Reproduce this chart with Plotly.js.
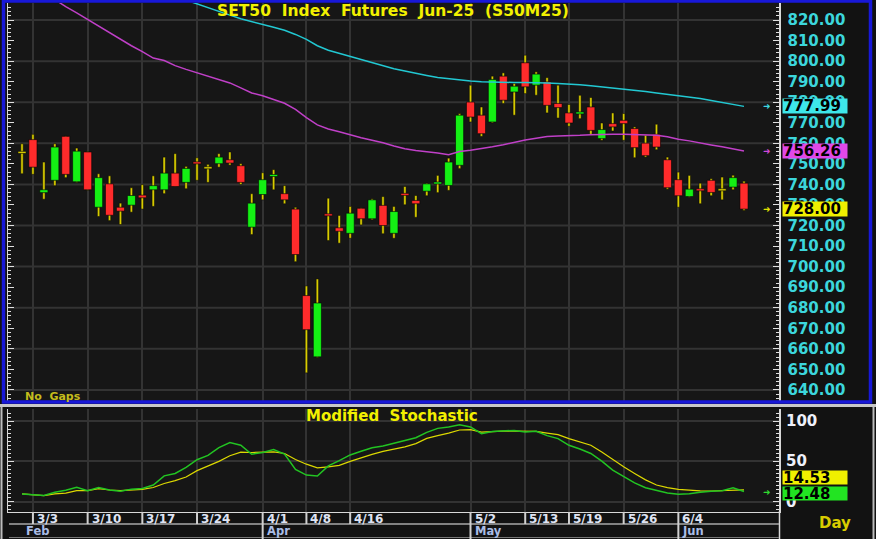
<!DOCTYPE html>
<html><head><meta charset="utf-8">
<script src="https://cdn.plot.ly/plotly-3.0.1.min.js"></script>
<style>html,body{margin:0;padding:0;background:#121212;overflow:hidden}#chart{width:876px;height:539px}</style>
</head><body><div id="chart"></div>
<script>
// ---- data ----
const openP  = [755.6,761.8,736.0,742.0,763.4,741.3,755.8,728.9,740.3,728.9,729.9,734.8,737.4,737.4,745.5,741.0,750.9,748.1,750.1,752.0,749.1,719.2,735.1,744.0,735.5,728.0,685.9,656.1,725.4,718.9,716.2,728.4,723.3,729.8,716.2,735.5,732.2,736.7,740.3,739.5,749.3,780.1,773.7,770.4,792.7,785.0,799.2,788.3,789.9,779.4,774.8,774.5,777.7,762.3,769.6,771.2,767.2,760.1,764.4,752.0,742.3,734.1,737.6,742.0,737.4,738.7,740.6];
const highP  = [759.8,764.4,750.9,759.8,763.6,757.7,756.0,745.2,744.2,730.9,738.4,739.9,744.2,753.3,755.0,748.8,753.0,749.8,755.0,755.8,750.1,735.5,745.7,747.2,739.4,728.9,690.6,694.0,733.3,724.9,729.3,728.6,733.0,734.1,729.3,739.0,734.6,740.6,744.4,752.8,774.5,788.3,777.7,792.7,794.3,789.1,802.9,794.8,792.0,788.3,778.9,783.4,782.3,769.9,774.8,774.5,768.0,763.9,769.3,753.3,746.0,744.4,740.6,742.8,743.6,744.5,741.6];
const lowP   = [745.2,744.9,732.8,739.4,743.3,741.0,737.2,724.4,722.4,720.5,726.5,728.0,729.3,735.5,739.0,737.9,742.0,741.0,748.4,749.4,740.0,715.6,732.5,737.4,730.6,702.4,648.3,655.8,712.7,711.4,713.8,720.3,722.8,716.0,713.8,730.1,724.0,734.5,736.0,737.1,747.7,770.4,763.4,770.0,779.4,773.7,784.2,783.4,774.8,772.3,768.3,772.0,764.4,761.5,766.0,761.5,753.0,753.3,756.9,737.7,728.9,733.8,730.6,734.5,732.5,737.4,727.3];
const closeP = [755.6,748.4,737.4,758.2,744.9,756.2,737.4,743.3,725.0,727.0,734.6,733.5,739.4,745.5,739.0,747.8,750.1,748.1,753.3,750.4,741.0,730.9,742.3,744.7,732.5,705.9,669.3,682.3,725.0,717.2,726.0,723.3,732.5,720.0,726.8,734.8,730.6,740.3,741.1,750.9,773.7,772.8,764.7,791.1,781.0,787.8,787.5,793.7,778.5,777.4,769.9,775.1,766.3,766.7,768.0,769.6,757.9,754.0,758.2,738.4,734.5,737.7,737.2,736.1,737.4,743.3,728.0];
const maLong = [null,null,null,null,null,null,null,null,null,null,null,null,null,null,null,829.7,827.8,826.0,824.0,822.4,820.6,819.3,818.0,816.5,815.0,813.0,810.6,807.5,805.3,803.8,802.5,801.0,799.5,797.8,796.3,795.2,794.0,793.0,792.0,791.4,790.8,790.3,790.0,789.8,789.6,789.6,789.6,789.6,789.4,789.1,788.9,788.5,788.0,787.5,786.9,786.3,785.8,785.2,784.5,783.9,783.3,782.7,781.8,780.9,780.0,779.1,777.99];
const maShort = [null,null,null,830.0,826.5,823.5,820.3,817.0,813.5,810.5,807.5,804.6,801.5,800.3,797.8,796.0,794.3,792.5,791.0,789.4,787.0,784.5,783.2,781.5,779.5,776.5,772.5,769.0,767.0,765.6,764.0,762.7,761.5,760.3,758.7,757.4,756.5,756.0,755.3,754.5,756.0,756.6,757.3,758.3,759.3,760.6,761.6,762.5,763.3,763.6,763.6,763.9,764.2,764.4,764.4,764.4,764.3,764.1,763.9,763.2,762.0,761.2,760.1,759.2,758.3,757.4,756.26];
const stochK = [9.5,9.0,7.6,11.6,14.2,17.8,13.6,17.6,14.4,12.8,15.5,16.4,20.6,32.0,35.0,42.5,52.0,57.5,67.0,73.3,70.0,58.9,61.0,64.7,59.0,40.0,33.0,31.7,44.4,51.0,58.0,62.5,67.0,69.0,72.5,76.5,79.3,86.0,91.0,92.8,95.5,92.8,84.4,87.2,87.7,88.5,86.5,87.3,82.0,78.3,70.0,65.4,59.8,50.4,39.1,30.9,23.3,17.3,14.0,10.7,9.1,9.8,11.5,13.0,13.5,17.3,12.48];
const stochD = [9.5,8.4,7.4,9.5,10.6,13.6,13.6,16.2,14.4,13.6,14.2,15.2,17.5,22.5,26.0,30.5,38.5,44.0,50.0,57.0,61.5,61.0,61.0,61.7,59.8,52.3,46.5,42.0,43.2,45.0,50.0,54.5,58.7,62.5,65.0,68.0,72.0,78.5,82.0,85.0,89.0,89.4,86.4,87.2,87.5,87.7,87.5,87.3,85.2,83.2,78.3,74.1,70.0,61.7,52.3,43.2,35.0,27.0,20.6,17.3,15.3,14.2,13.4,13.2,13.4,14.4,14.53];
const dayTickIdx  = [1,6,11,16,22,26,30,41,46,50,55,60];
const dayTickText = ['3/3','3/10','3/17','3/24','4/1','4/8','4/16','5/2','5/13','5/19','5/26','6/4'];
const monthIdx  = [0,22,41,60];
const monthText = ['Feb','Apr','May','Jun'];
const priceGrid = [640,660,680,700,720,740,760,780,800,820];
const stochTicks = [0,50,100];

// ---- helpers ----
const W = 876, H = 539;
const px = v => v / W, py = v => 1 - v / H;
const FONT = 'DejaVu Sans, Verdana, sans-serif';
const UP = '#14f014', DOWN = '#ff2b2b', DOJI = '#e0d400', WICK = '#d8cc00';

const xi = openP.map((_, i) => i);
const base = [], len = [], col = [], wBase = [], wLen = [];
openP.forEach((o, i) => {
  const c = closeP[i];
  let lo = Math.min(o, c), hi = Math.max(o, c), h = hi - lo;
  if (h < 1) { const m = (lo + hi) / 2; lo = m - 0.5; h = 1; }
  base.push(lo); len.push(h);
  col.push(c > o ? UP : (c < o ? DOWN : DOJI));
  wBase.push(lowP[i]); wLen.push(highP[i] - lowP[i]);
});

const traces = [
  {type:'bar', x:xi, base:wBase, y:wLen, width:0.22, marker:{color:WICK, line:{color:'#050505', width:0.5}}, xaxis:'x', yaxis:'y'},
  {type:'bar', x:xi, base:base, y:len, width:0.74, marker:{color:col, line:{color:'#050505', width:0.6}}, xaxis:'x', yaxis:'y'},
  {type:'scatter', mode:'lines', x:xi, y:maLong, line:{color:'#22c8d2', width:1.5}, xaxis:'x', yaxis:'y'},
  {type:'scatter', mode:'lines', x:xi, y:maShort, line:{color:'#c040c8', width:1.5}, xaxis:'x', yaxis:'y'},
  {type:'scatter', mode:'lines', x:xi, y:stochD, line:{color:'#dcd800', width:1.2}, xaxis:'x2', yaxis:'y2'},
  {type:'scatter', mode:'lines', x:xi, y:stochK, line:{color:'#22c422', width:1.5}, xaxis:'x2', yaxis:'y2'}
];

const xRange = [-1.28, 69.2];
const xDom = [px(8), px(779)];
const axisLine = '#d8d8d8';

const shapes = [];
priceGrid.forEach(v => shapes.push({type:'line', xref:'paper', x0:xDom[0], x1:xDom[1], yref:'y', y0:v, y1:v, line:{color:'#333333', width:2}, layer:'below'}));
shapes.push({type:'rect', xref:'paper', yref:'paper', x0:px(3.5), x1:px(870.5), y0:py(402), y1:py(1), line:{color:'#1818d8', width:3.5}});
shapes.push({type:'line', xref:'paper', yref:'paper', x0:0, x1:1, y0:py(405.5), y1:py(405.5), line:{color:'#c8c8c8', width:3}});
shapes.push({type:'line', xref:'paper', yref:'paper', x0:px(1.5), x1:px(1.5), y0:py(407), y1:0, line:{color:'#bdbdbd', width:2}});
shapes.push({type:'line', xref:'paper', yref:'paper', x0:px(873.5), x1:px(873.5), y0:py(407), y1:0, line:{color:'#bdbdbd', width:2}});
shapes.push({type:'line', xref:'paper', yref:'paper', x0:px(779.5), x1:px(779.5), y0:py(511), y1:0, line:{color:axisLine, width:1.5}});
shapes.push({type:'line', xref:'paper', yref:'paper', x0:px(9), x1:px(779), y0:py(524), y1:py(524), line:{color:'#a8a8a8', width:1.5}});
shapes.push({type:'line', xref:'paper', yref:'paper', x0:px(9), x1:px(779), y0:py(537.5), y1:py(537.5), line:{color:'#777', width:1}});
dayTickIdx.forEach(v => shapes.push({type:'line', xref:'x', x0:v, x1:v, yref:'paper', y0:py(512), y1:py(524), line:{color:'#d0d0d0', width:2}}));
monthIdx.slice(1).forEach(v => shapes.push({type:'line', xref:'x', x0:v, x1:v, yref:'paper', y0:py(524), y1:py(539), line:{color:'#d0d0d0', width:2}}));

const annotations = [];
dayTickText.forEach((t, k) => annotations.push({xref:'x', x:dayTickIdx[k], xanchor:'left', xshift:2, yref:'paper', y:py(518.5), yanchor:'middle', text:t, showarrow:false, font:{family:FONT, size:12, color:'#dfe3f2', weight:'bold'}}));
monthText.forEach((t, k) => annotations.push({xref:'x', x:monthIdx[k], xanchor:'left', xshift:2, yref:'paper', y:py(531), yanchor:'middle', text:t, showarrow:false, font:{family:FONT, size:11.5, color:'#a9bde6', weight:'bold'}}));
stochTicks.forEach(v => annotations.push({xref:'paper', x:px(784), xanchor:'left', yref:'y2', y:v, yanchor:'middle', text:String(v), showarrow:false, font:{family:FONT, size:15, color:'#eef0fa', weight:'bold'}}));

function tag(v, bg, yref, yanchor, yshift, h) {
  annotations.push({xref:'paper', x:px(782), xanchor:'left', yref:yref, y:v, yanchor:yanchor, yshift:yshift, text:v.toFixed(2), showarrow:false, bgcolor:bg, borderpad:0, width:64, height:h, align:'left', valign:'middle', font:{family:FONT, size:15, color:'#000', weight:'bold'}});
}
function arrow(v, color, yref) {
  annotations.push({xref:'paper', x:px(767), xanchor:'center', yref:yref, y:v, yanchor:'middle', text:'➜', showarrow:false, font:{family:'DejaVu Sans', size:9, color:color}});
}
const lastL = maLong[maLong.length-1], lastS = maShort[maShort.length-1], lastC = closeP[closeP.length-1];
const lastK = stochK[stochK.length-1], lastD = stochD[stochD.length-1];
tag(lastL, '#3ee6ea', 'y', 'middle', 0, 14);  arrow(lastL, '#3ed8e0', 'y');
tag(lastS, '#e048e8', 'y', 'middle', 0, 14);  arrow(lastS, '#d048d8', 'y');
tag(lastC, '#f0f000', 'y', 'middle', 0, 14);  arrow(lastC, '#e0e000', 'y');
tag(lastD, '#f0f000', 'y2', 'bottom', 5, 13);
tag(lastK, '#22e422', 'y2', 'top', 6, 13);    arrow(lastK, '#30d830', 'y2');

annotations.push({xref:'paper', yref:'paper', x:px(392), y:py(416), xanchor:'center', yanchor:'middle', text:'Modified\u00a0\u00a0Stochastic', showarrow:false, font:{family:FONT, size:15, color:'#f2f000', weight:'bold'}});
annotations.push({xref:'paper', yref:'paper', x:px(23), y:py(396.5), xanchor:'left', yanchor:'middle', text:'No\u00a0\u00a0Gaps', showarrow:false, font:{family:FONT, size:11, color:'#c4bc1c', weight:'bold'}});
annotations.push({xref:'paper', yref:'paper', x:px(835), y:py(523), xanchor:'center', yanchor:'middle', text:'Day', showarrow:false, font:{family:FONT, size:15, color:'#d8cc00', weight:'bold'}});

const layout = {
  width: W, height: H,
  margin: {l:0, r:0, t:0, b:0, pad:0},
  paper_bgcolor: '#121212', plot_bgcolor: '#161616',
  showlegend: false, hovermode: false, barmode: 'overlay',
  font: {family: FONT},
  title: {text:'SET50\u00a0\u00a0Index\u00a0\u00a0Futures\u00a0\u00a0Jun-25\u00a0\u00a0(S50M25)', x:px(393), xanchor:'center', y:py(10.5), yanchor:'middle', font:{family:FONT, size:15.5, color:'#f2f000', weight:'bold'}},
  xaxis: {domain:xDom, anchor:'y', range:xRange, tickmode:'array', tickvals:dayTickIdx, showticklabels:false, ticks:'', showgrid:true, gridcolor:'#333333', gridwidth:2, zeroline:false, showline:false},
  xaxis2: {domain:xDom, anchor:'y2', matches:'x', range:xRange, tickmode:'array', tickvals:dayTickIdx, showticklabels:false, ticks:'', showgrid:true, gridcolor:'#333333', gridwidth:2, zeroline:false, showline:true, linecolor:axisLine, linewidth:1.5},
  yaxis: {domain:[py(401), py(3)], range:[634.6, 828.3], side:'right', tickmode:'linear', dtick:10, tick0:0, tickformat:'.2f', showgrid:false, zeroline:false,
    ticks:'inside', ticklen:6, tickwidth:1, tickcolor:'#e0e0e0', showline:true, linecolor:axisLine, linewidth:1.5, mirror:'ticks',
    minor:{dtick:2, ticks:'inside', ticklen:3, tickcolor:'#e0e0e0', showgrid:false},
    ticklabelstandoff:4, tickfont:{family:FONT, size:15, color:'#3cd6dc', weight:'bold'}},
  yaxis2: {domain:[py(511.5), py(408.5)], range:[-12.3, 115.7], side:'right', tickmode:'array', tickvals:stochTicks, showticklabels:false, showgrid:true, gridcolor:'#333333', gridwidth:2, zeroline:false,
    ticks:'inside', ticklen:6, tickwidth:1, tickcolor:'#e0e0e0', showline:true, linecolor:axisLine, linewidth:1.5, mirror:'ticks',
    minor:{dtick:5, tick0:0, ticks:'inside', ticklen:3, tickcolor:'#e0e0e0', showgrid:false}},
  shapes: shapes,
  annotations: annotations
};

Plotly.newPlot('chart', traces, layout, {displayModeBar:false, staticPlot:true});
</script>
</body></html>
